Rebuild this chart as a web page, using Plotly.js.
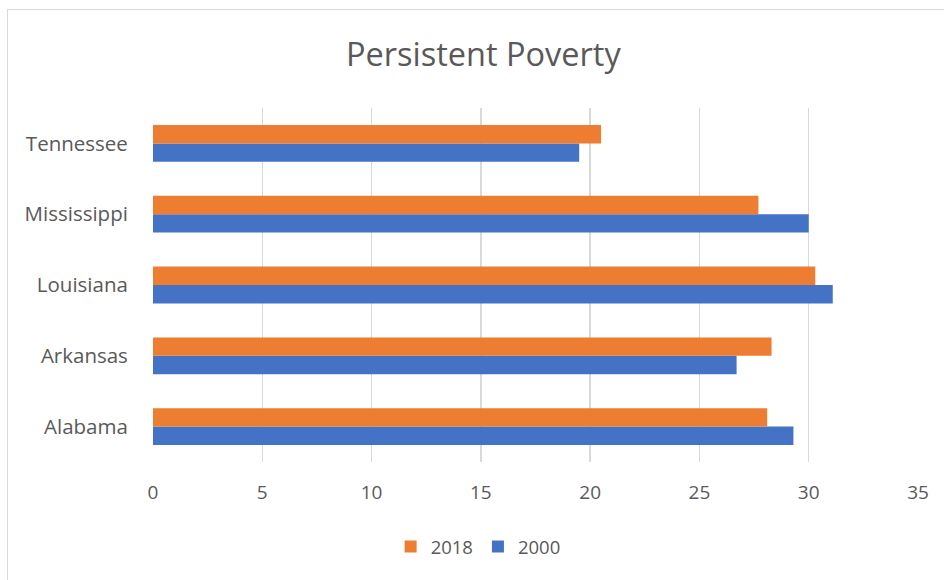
<!DOCTYPE html>
<html>
<head>
<meta charset="utf-8">
<script src="https://cdn.plot.ly/plotly-3.0.1.min.js"></script>
<style>
  html, body { margin: 0; padding: 0; background: #ffffff; }
  #frame { position: absolute; left: 7px; top: 9px; width: 960px; height: 600px;
           border: 1px solid #d9d9d9; box-sizing: border-box; pointer-events: none; }
  #chart { position: absolute; left: 0; top: 0; width: 944px; height: 580px; }
</style>
</head>
<body>
<div id="chart"></div>
<div id="frame"></div>
<script>
// Persistent poverty rate by state, 2000 vs 2018
const states = ['Alabama', 'Arkansas', 'Louisiana', 'Mississippi', 'Tennessee'];
const values2000 = [29.3, 26.7, 31.1, 30.0, 19.5];
const values2018 = [28.1, 28.3, 30.3, 27.7, 20.5];
const xTicks = [0, 5, 10, 15, 20, 25, 30, 35];

const FONT = '"Open Sans", sans-serif';
const GREY = '#595959';

const traces = [
  {
    type: 'bar', orientation: 'h', name: '2000',
    y: states, x: values2000,
    marker: { color: '#4472C4' }
  },
  {
    type: 'bar', orientation: 'h', name: '2018',
    y: states, x: values2018,
    marker: { color: '#ED7D31' }
  }
];

const layout = {
  width: 944, height: 580,
  paper_bgcolor: '#ffffff', plot_bgcolor: '#ffffff',
  margin: { l: 152.5, r: 26, t: 107.5, b: 117.5, pad: 0 },
  barmode: 'group', bargap: 0.48, bargroupgap: 0,
  showlegend: true,
  title: {
    text: 'Persistent Poverty',
    font: { family: FONT, size: 32.5, color: GREY },
    x: 0.512, xanchor: 'center', y: 0.905, yanchor: 'middle'
  },
  xaxis: {
    range: [0, 35], tickvals: xTicks, ticktext: xTicks.map(String),
    showgrid: true, gridcolor: '#d9d9d9', gridwidth: 1.5,
    zeroline: false, showline: false,
    ticks: 'outside', ticklen: 13, tickcolor: 'rgba(0,0,0,0)',
    tickfont: { family: FONT, size: 19, color: GREY },
    fixedrange: true
  },
  yaxis: {
    type: 'category', categoryarray: states, categoryorder: 'array',
    showgrid: false, zeroline: false, showline: false,
    ticks: 'outside', ticklen: 20, tickcolor: 'rgba(0,0,0,0)',
    tickfont: { family: FONT, size: 20.5, color: GREY },
    fixedrange: true
  },
  legend: {
    orientation: 'h', traceorder: 'reversed',
    x: 0.425, xanchor: 'center', y: -0.24, yanchor: 'middle',
    font: { family: FONT, size: 18.5, color: GREY },
    itemwidth: 30
  },
  hovermode: false
};

Plotly.newPlot('chart', traces, layout, { displayModeBar: false, staticPlot: true });
</script>
</body>
</html>
